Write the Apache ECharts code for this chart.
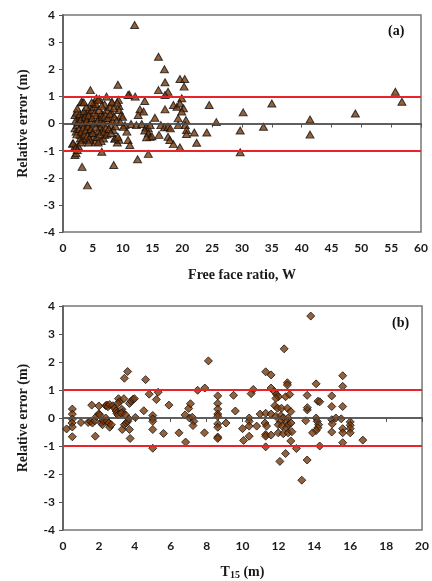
<!DOCTYPE html>
<html>
<head>
<meta charset="utf-8">
<script src="https://cdn.jsdelivr.net/npm/echarts@6/dist/echarts.min.js"></script>
<style>
  html, body { margin: 0; padding: 0; background: #fff; }
  #main { width: 432px; height: 581px; }
</style>
</head>
<body>
<div id="main"></div>
<script>
// (a) relative error vs free face ratio W  -> [W, error]
var pointsA = [
  [12.0,3.63],[16.0,2.46],[17.0,2.0],[17.1,1.52],[16.0,1.23],[19.6,1.64],[20.4,1.64],[20.3,1.36],
  [17.6,1.17],[17.1,1.05],[11.1,1.07],[12.1,0.99],[13.7,0.83],[19.9,0.93],[18.5,0.68],[19.1,0.62],
  [19.6,0.74],[20.2,0.56],[19.9,0.44],[17.1,0.52],[12.9,0.52],[13.5,0.44],[12.6,0.31],[15.4,0.21],
  [19.3,0.19],[20.6,0.13],[20.5,-0.06],[19.3,-0.06],[11.4,-0.02],[12.3,-0.06],[13.2,-0.02],[13.9,-0.14],
  [14.3,-0.18],[14.6,-0.06],[13.7,-0.26],[14.3,-0.36],[14.6,-0.49],[14.9,-0.47],[14.0,-0.51],[16.1,-0.42],
  [16.4,-0.06],[17.0,-0.14],[17.6,-0.12],[18.0,-0.18],[17.6,-0.49],[17.9,-0.61],[18.5,-0.76],[19.6,-0.88],
  [20.7,-0.24],[20.7,-0.39],[22.0,-0.33],[22.4,-0.71],[10.4,-0.06],[10.7,-0.3],[10.9,-0.61],[11.2,-0.79],
  [12.5,-1.32],[14.3,-1.12],[24.5,0.68],[24.1,-0.33],[25.7,0.05],
  [29.7,-0.26],[29.7,-1.06],[30.2,0.41],[33.6,-0.12],[35.0,0.74],[41.4,0.15],[41.4,-0.41],[49.0,0.37],
  [55.7,1.17],[56.8,0.8],
  [4.6,1.23],[9.2,1.43],[3.2,0.78],[5.6,0.93],[6.1,0.9],[5.1,0.74],[7.3,0.99],[8.2,0.77],[9.3,0.87],
  [9.4,0.64],[10.9,1.05],[9.4,0.5],[9.7,0.3],[10.0,0.25],[8.7,-0.55],[9.1,-0.7],[9.4,-0.6],[10.1,-0.12],
  [2.0,-1.16],[3.2,-1.6],[4.1,-2.28],[6.5,-1.04],[8.5,-1.53],[1.6,-0.75],[2.0,-0.85],[2.6,-0.85],[2.2,-1.1],
  [1.7,-0.73],[2.2,-0.88],[2.4,-0.98],[2.0,0.31],[2.3,0.4],[2.6,0.23],[3.1,0.8],[2.0,-0.18],[2.2,-0.3],
  [2.4,-0.05],[2.85,-0.42],[3.1,-0.61],[3.4,-0.55],[3.4,0.31],[3.85,0.37],[4.25,0.5],[4.5,0.25],[4.8,0.5],
  [3.7,0.13],[4.0,-0.06],[4.4,-0.24],[4.8,-0.36],[5.1,-0.49],[5.4,-0.67],[4.5,-0.61],[5.1,0.62],[5.5,0.72],
  [5.9,0.87],[5.6,0.31],[6.1,0.19],[6.5,0.37],[6.2,-0.12],[6.6,-0.24],[7.0,-0.42],[6.8,-0.55],[5.9,-0.3],
  [7.3,0.5],[7.8,0.62],[8.2,0.37],[8.5,0.56],[7.6,0.13],[8.0,-0.06],[8.4,-0.24],[8.7,-0.55],[9.2,-0.49],
  [8.2,0.8],[9.1,0.77],
  [2.1,0.1],[2.3,-0.4],[2.5,0.05],[2.7,-0.2],[2.8,0.35],[2.9,-0.55],[3.0,0.15],[3.1,-0.3],[3.3,0.0],
  [3.4,-0.15],[3.5,0.45],[3.6,-0.4],[3.7,0.25],[3.8,-0.25],[3.9,0.6],[4.0,0.1],[4.1,-0.45],[4.2,-0.1],
  [4.3,0.3],[4.4,-0.55],[4.6,0.05],[4.7,-0.2],[4.9,0.2],[5.0,-0.35],[5.2,0.0],[5.3,0.4],[5.5,-0.15],
  [5.7,-0.5],[5.8,0.1],[6.0,0.5],[6.2,-0.4],[6.3,0.05],[6.4,-0.65],[6.6,0.25],[6.7,0.0],[6.9,-0.3],
  [7.1,0.3],[7.2,-0.15],[7.4,-0.4],[7.5,0.2],[7.7,-0.2],[7.9,0.35],[8.0,-0.35],[8.3,0.1],[8.6,0.25],
  [8.8,-0.1],[9.0,0.1],[9.6,0.05],[3.5,0.78],[4.8,0.78],[2.4,0.55],[5.9,-0.7],[4.3,-0.7],[3.0,-0.7],
  [7.0,0.7],[6.5,0.65]
];

// (b) relative error vs T15 (m) -> [T15, error]
var pointsB = [
  [0.2,-0.39],[0.52,0.32],[0.52,0.14],[0.52,-0.04],[0.5,-0.18],[0.52,-0.32],[0.52,-0.67],[1.0,-0.16],
  [1.4,-0.16],[1.53,-0.12],[1.64,-0.18],[1.77,-0.1],[1.6,0.46],[1.8,-0.65],[2.0,0.43],[1.86,0.05],
  [2.0,0.15],[2.04,0.11],[2.14,-0.18],[2.2,-0.24],[2.27,-0.1],[2.38,0.44],[2.45,0.46],[2.5,0.4],
  [2.6,0.48],[2.38,0.0],[2.45,-0.12],[2.56,-0.18],[2.6,-0.33],[2.69,-0.24],[2.78,0.44],[2.87,0.35],
  [2.96,0.25],[3.0,0.17],[3.06,0.11],[3.09,0.69],[3.15,0.58],[3.06,0.52],[3.28,0.31],[3.33,0.2],
  [3.24,0.17],[3.3,-0.41],[3.42,1.42],[3.6,1.66],[3.39,0.69],[3.42,-0.24],[3.52,-0.18],[3.61,-0.12],
  [3.66,-0.03],[3.48,0.11],[3.7,0.52],[3.8,0.6],[3.9,0.67],[3.74,-0.73],[3.7,-0.41],[3.98,0.69],
  [4.03,0.02],[4.5,0.26],[4.6,1.37],[4.8,0.85],[5.0,0.09],[5.0,-0.03],[5.0,-0.12],[5.0,-0.41],
  [5.0,-1.08],[5.2,0.66],[5.3,0.92],[5.6,-0.55],[5.9,0.46],[6.46,-0.53],[6.8,0.11],[6.83,-0.86],
  [7.0,0.34],[7.1,0.51],[7.05,0.0],[7.2,0.03],[7.29,-0.12],[7.24,-0.27],[7.5,0.99],[7.9,1.07],
  [8.1,2.04],[7.88,-0.53],
  [8.62,0.79],[8.62,0.52],[8.62,0.32],[8.62,0.14],[8.62,0.06],[8.62,-0.21],[8.62,-0.33],[8.62,-0.68],
  [8.62,-0.73],[9.08,-0.18],
  [13.8,3.64],[12.32,2.47],[11.29,1.65],[11.59,1.54],[12.5,1.26],[12.5,1.18],[14.1,1.22],[10.6,1.02],
  [10.48,0.87],[9.5,0.81],[11.59,1.07],[11.77,0.95],[11.9,0.84],[12.0,0.76],[11.86,0.7],[12.4,0.76],
  [12.63,0.84],[13.6,0.81],[14.2,0.6],[9.6,0.25],[11.8,0.44],[11.95,0.35],[12.17,0.35],[12.5,0.35],
  [12.69,0.23],[10.98,0.14],[11.29,0.17],[11.59,0.14],[11.86,0.06],[12.14,0.09],[12.27,0.0],[12.54,0.0],
  [12.45,-0.12],[12.1,-0.12],[11.99,-0.24],[12.21,-0.29],[12.45,-0.35],[12.56,-0.24],[12.7,-0.18],
  [11.99,-0.53],[12.27,-0.56],[12.54,-0.53],[12.75,-0.49],[10.37,0.0],[10.37,-0.12],[10.37,-0.29],
  [10.0,-0.38],[10.79,-0.29],[11.25,-0.18],[11.34,-0.29],[11.29,-0.59],[11.29,-0.65],[11.59,-0.61],
  [10.37,-0.65],[10.06,-0.8],[11.29,-1.03],[12.69,-0.82],[13.0,-1.09],[12.4,-1.27],[12.08,-1.55],
  [13.6,-1.5],[13.3,-2.22],[13.52,-0.1],[13.61,0.29],[13.61,0.37],[14.1,0.0],[14.16,-0.12],[14.24,-0.24],
  [14.2,-0.35],[14.1,-0.45],[13.9,-0.53],[14.3,-1.0],
  [15.58,1.51],[15.58,1.13],[14.97,0.79],[14.97,0.41],[15.58,0.41],[14.3,0.58],[14.97,-0.06],[15.2,0.0],
  [15.5,-0.03],[15.0,-0.21],[14.97,-0.5],[15.58,-0.38],[15.58,-0.53],[16.0,-0.14],[16.0,-0.26],
  [16.0,-0.38],[16.0,-0.53],[15.58,-0.88],[16.7,-0.79]
];

var limitLines = [1, -1];
var zeroLine = [0];

var markerFill = '#7a3a0a';
var axisColor = '#555';
var labelFont = { color: '#1a1a1a', fontWeight: 'bold', fontSize: 12, fontFamily: 'Lato' };
var titleFont = { color: '#1a1a1a', fontWeight: 'bold', fontSize: 14, fontFamily: 'Liberation Serif' };

function refLines(gridIdx) {
  var data = [];
  limitLines.forEach(function (v) {
    data.push({ yAxis: v, lineStyle: { color: '#e8232a', width: 2, type: 'solid' } });
  });
  zeroLine.forEach(function (v) {
    data.push({ yAxis: v, lineStyle: { color: '#555', width: 1.5, type: 'solid' } });
  });
  return {
    type: 'scatter', xAxisIndex: gridIdx, yAxisIndex: gridIdx, data: [], z: 1,
    markLine: { silent: true, symbol: 'none', label: { show: false }, data: data }
  };
}

function yAxisCfg(gridIdx) {
  return {
    gridIndex: gridIdx, type: 'value', min: -4, max: 4, interval: 1,
    name: 'Relative error (m)', nameLocation: 'middle', nameGap: 33, nameTextStyle: titleFont,
    axisLine: { show: true, lineStyle: { color: axisColor, width: 1.5 } },
    axisTick: { show: true, length: 4, lineStyle: { color: axisColor } },
    axisLabel: labelFont, splitLine: { show: false }
  };
}

var chart = echarts.init(document.getElementById('main'));
chart.setOption({
  animation: false,
  grid: [
    { left: 63, top: 15, width: 358, height: 217, show: true, borderColor: '#777', borderWidth: 1.5 },
    { left: 63, top: 306, width: 362, height: 228, show: true, borderColor: '#777', borderWidth: 1.5 }
  ],
  xAxis: [
    {
      gridIndex: 0, type: 'value', min: 0, max: 60, interval: 5,
      name: 'Free face ratio, W', nameLocation: 'middle', nameGap: 36, nameTextStyle: titleFont,
      axisLine: { lineStyle: { color: axisColor, width: 1.5 } },
      axisTick: { show: true, length: 4, lineStyle: { color: axisColor } },
      axisLabel: Object.assign({ margin: 10 }, labelFont), splitLine: { show: false }
    },
    {
      gridIndex: 1, type: 'value', min: 0, max: 20, interval: 2,
      name: '{t|T}{s|15}{t| (m)}', nameLocation: 'middle', nameGap: 34,
      nameTextStyle: {
        rich: {
          t: titleFont,
          s: { color: '#1a1a1a', fontWeight: 'bold', fontSize: 10, fontFamily: 'Liberation Serif', verticalAlign: 'bottom', padding: [6, 0, 0, 0] }
        }
      },
      axisLine: { lineStyle: { color: axisColor, width: 1.5 } },
      axisTick: { show: true, length: 4, lineStyle: { color: axisColor } },
      axisLabel: Object.assign({ margin: 10 }, labelFont), splitLine: { show: false }
    }
  ],
  yAxis: [yAxisCfg(0), yAxisCfg(1)],
  graphic: [
    { type: 'text', left: 388, top: 24, style: { text: '(a)', font: 'bold 14px "Liberation Serif"', fill: '#111' } },
    { type: 'text', left: 392, top: 316, style: { text: '(b)', font: 'bold 14px "Liberation Serif"', fill: '#111' } }
  ],
  series: [
    refLines(0),
    refLines(1),
    {
      type: 'scatter', xAxisIndex: 0, yAxisIndex: 0, z: 3,
      symbol: 'triangle', symbolSize: [8, 7],
      itemStyle: { color: markerFill, borderColor: '#111', borderWidth: 1 },
      data: pointsA
    },
    {
      type: 'scatter', xAxisIndex: 1, yAxisIndex: 1, z: 3,
      symbol: 'diamond', symbolSize: [8, 8],
      itemStyle: { color: markerFill, borderColor: '#111', borderWidth: 1 },
      data: pointsB
    }
  ]
});
</script>
</body>
</html>
